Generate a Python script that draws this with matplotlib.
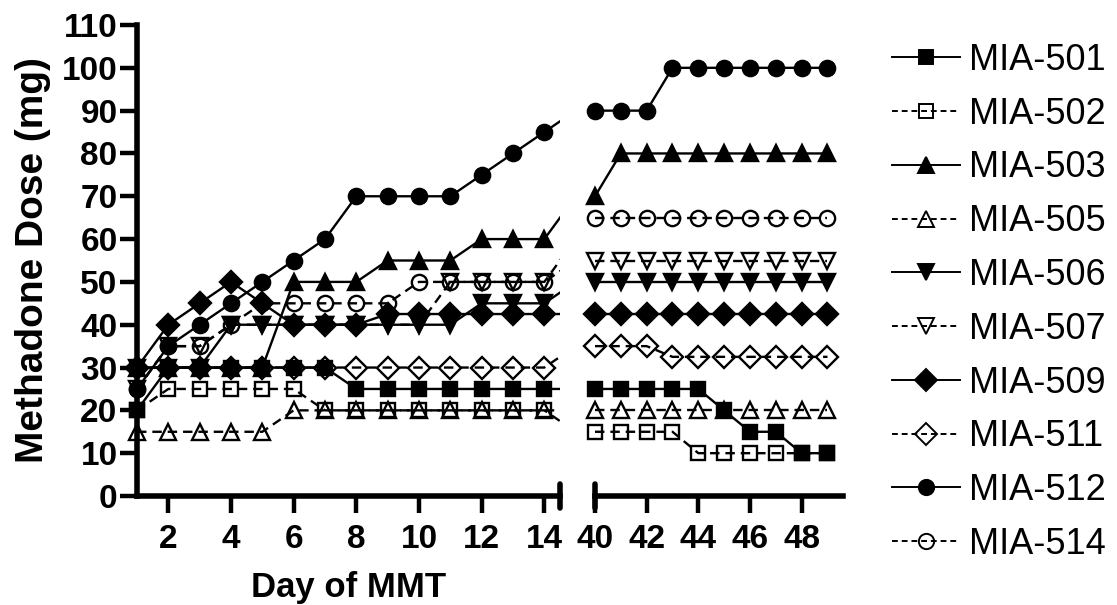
import numpy as np
import matplotlib
matplotlib.use("Agg")
import matplotlib.pyplot as plt
from matplotlib.lines import Line2D

plt.rcParams['font.family'] = ['Liberation Sans', 'DejaVu Sans']

# days shown in the two panels (day 15 only feeds the clipped segment at the break)
days_a = [1, 2, 3, 4, 5, 6, 7, 8, 9, 10, 11, 12, 13, 14, 15]
days_b = [40, 41, 42, 43, 44, 45, 46, 47, 48, 49]

names = ["MIA-501", "MIA-502", "MIA-503", "MIA-505", "MIA-506",
         "MIA-507", "MIA-509", "MIA-511", "MIA-512", "MIA-514"]

# methadone dose (mg), early days
mia501_a = [20, 30, 30, 30, 30, 30, 30, 25, 25, 25, 25, 25, 25, 25, 25]
mia502_a = [20, 25, 25, 25, 25, 25, 20, 20, 20, 20, 20, 20, 20, 20, 15]
mia503_a = [30, 30, 30, 30, 30, 50, 50, 50, 55, 55, 55, 60, 60, 60, 70]
mia505_a = [15, 15, 15, 15, 15, 20, 20, 20, 20, 20, 20, 20, 20, 20, 20]
mia506_a = [30, 30, 30, 40, 40, 40, 40, 40, 40, 40, 40, 45, 45, 45, 50]
mia507_a = [25, 35, 35, 40, 40, 40, 40, 40, 40, 40, 50, 50, 50, 50, 55]
mia509_a = [30, 40, 45, 50, 45, 40, 40, 40, 42.5, 42.5, 42.5, 42.5, 42.5, 42.5, 42.5]
mia511_a = [30, 30, 30, 30, 30, 30, 30, 30, 30, 30, 30, 30, 30, 30, 35]
mia512_a = [25, 35, 40, 45, 50, 55, 60, 70, 70, 70, 70, 75, 80, 85, 90]
mia514_a = [25, 35, 35, 40, 45, 45, 45, 45, 45, 50, 50, 50, 50, 50, 60]

# methadone dose (mg), days 40-49
mia501_b = [25, 25, 25, 25, 25, 20, 15, 15, 10, 10]
mia502_b = [15, 15, 15, 15, 10, 10, 10, 10, 10, 10]
mia503_b = [70, 80, 80, 80, 80, 80, 80, 80, 80, 80]
mia505_b = [20, 20, 20, 20, 20, 20, 20, 20, 20, 20]
mia506_b = [50, 50, 50, 50, 50, 50, 50, 50, 50, 50]
mia507_b = [55, 55, 55, 55, 55, 55, 55, 55, 55, 55]
mia509_b = [42.5, 42.5, 42.5, 42.5, 42.5, 42.5, 42.5, 42.5, 42.5, 42.5]
mia511_b = [35, 35, 35, 32.5, 32.5, 32.5, 32.5, 32.5, 32.5, 32.5]
mia512_b = [90, 90, 90, 100, 100, 100, 100, 100, 100, 100]
mia514_b = [65, 65, 65, 65, 65, 65, 65, 65, 65, 65]

early = [mia501_a, mia502_a, mia503_a, mia505_a, mia506_a,
         mia507_a, mia509_a, mia511_a, mia512_a, mia514_a]
late = [mia501_b, mia502_b, mia503_b, mia505_b, mia506_b,
        mia507_b, mia509_b, mia511_b, mia512_b, mia514_b]

markers = ['s', 's', '^', '^', 'v', 'v', 'D', 'D', 'o', 'o']
filled = [True, False, True, False, True, False, True, False, True, False]
msizes = [10, 10, 11, 11, 11, 11, 11.5, 11.5, 11, 11]

LW = 1.7
DASH = (4, 2.5)

fig = plt.figure(figsize=(11.17, 6.05), dpi=100)
ax1 = fig.add_axes([137/1117, 109/605, 423/1117, 471/605])
ax2 = fig.add_axes([595/1117, 109/605, 248/1117, 471/605])


def draw(ax, x, y, lo, hi, mk, fill, ms):
    x = np.array(x, dtype=float)
    y = np.array(y, dtype=float)
    line, = ax.plot(x, y, color='k', lw=LW, zorder=2)
    if not fill:
        line.set_dashes(DASH)
    keep = (x >= lo) & (x <= hi)
    ax.plot(x[keep], y[keep], ls='none', marker=mk, ms=ms,
            mfc='k' if fill else 'none', mec='k', mew=1.7,
            clip_on=False, zorder=3)


for i in range(len(names)):
    draw(ax1, days_a, early[i], 1, 14.5, markers[i], filled[i], msizes[i])
    draw(ax2, days_b, late[i], 40, 49.6, markers[i], filled[i], msizes[i])

ax1.set_xlim(1, 14.5)
ax1.set_xticks([2, 4, 6, 8, 10, 12, 14])
ax1.set_yticks(np.arange(0, 111, 10))
ax2.set_xlim(40, 49.6)
ax2.set_xticks([40, 42, 44, 46, 48])
ax2.spines['left'].set_visible(False)
ax2.set_yticks([])

for ax in (ax1, ax2):
    ax.set_ylim(0, 110)
    ax.spines['top'].set_visible(False)
    ax.spines['right'].set_visible(False)
    ax.spines['bottom'].set_linewidth(4)
    ax.spines['left'].set_linewidth(4)
    ax.tick_params(axis='both', direction='out', length=12, width=3.2,
                   labelsize=24, pad=2)
    ax.tick_params(axis='x', pad=8)
    for lab in ax.get_xticklabels() + ax.get_yticklabels():
        lab.set_fontweight('bold')

# axis break caps
ax1.plot([1, 1], [-0.025, 0.025], transform=ax1.transAxes, color='k',
         lw=4, solid_capstyle='round', clip_on=False)
ax2.plot([0, 0], [-0.025, 0.025], transform=ax2.transAxes, color='k',
         lw=4, solid_capstyle='round', clip_on=False)

ax1.set_xlabel("Day of MMT", fontsize=25, fontweight='bold', labelpad=12)
ax1.set_ylabel("Methadone Dose (mg)", fontsize=28, fontweight='bold', labelpad=8)

handles = []
for i in range(len(names)):
    h = Line2D([], [], color='k', lw=1.4, marker=markers[i], ms=msizes[i],
               mfc='k' if filled[i] else 'none', mec='k', mew=1.4)
    if not filled[i]:
        h.set_dashes((3, 2))
    handles.append(h)

fig.legend(handles, names, loc='upper left', bbox_to_anchor=(870/1117, 0.965),
           frameon=False, fontsize=26, handlelength=1.9, handletextpad=0.25,
           labelspacing=0.52, borderaxespad=0.2)

fig.savefig("out.png", dpi=100)
